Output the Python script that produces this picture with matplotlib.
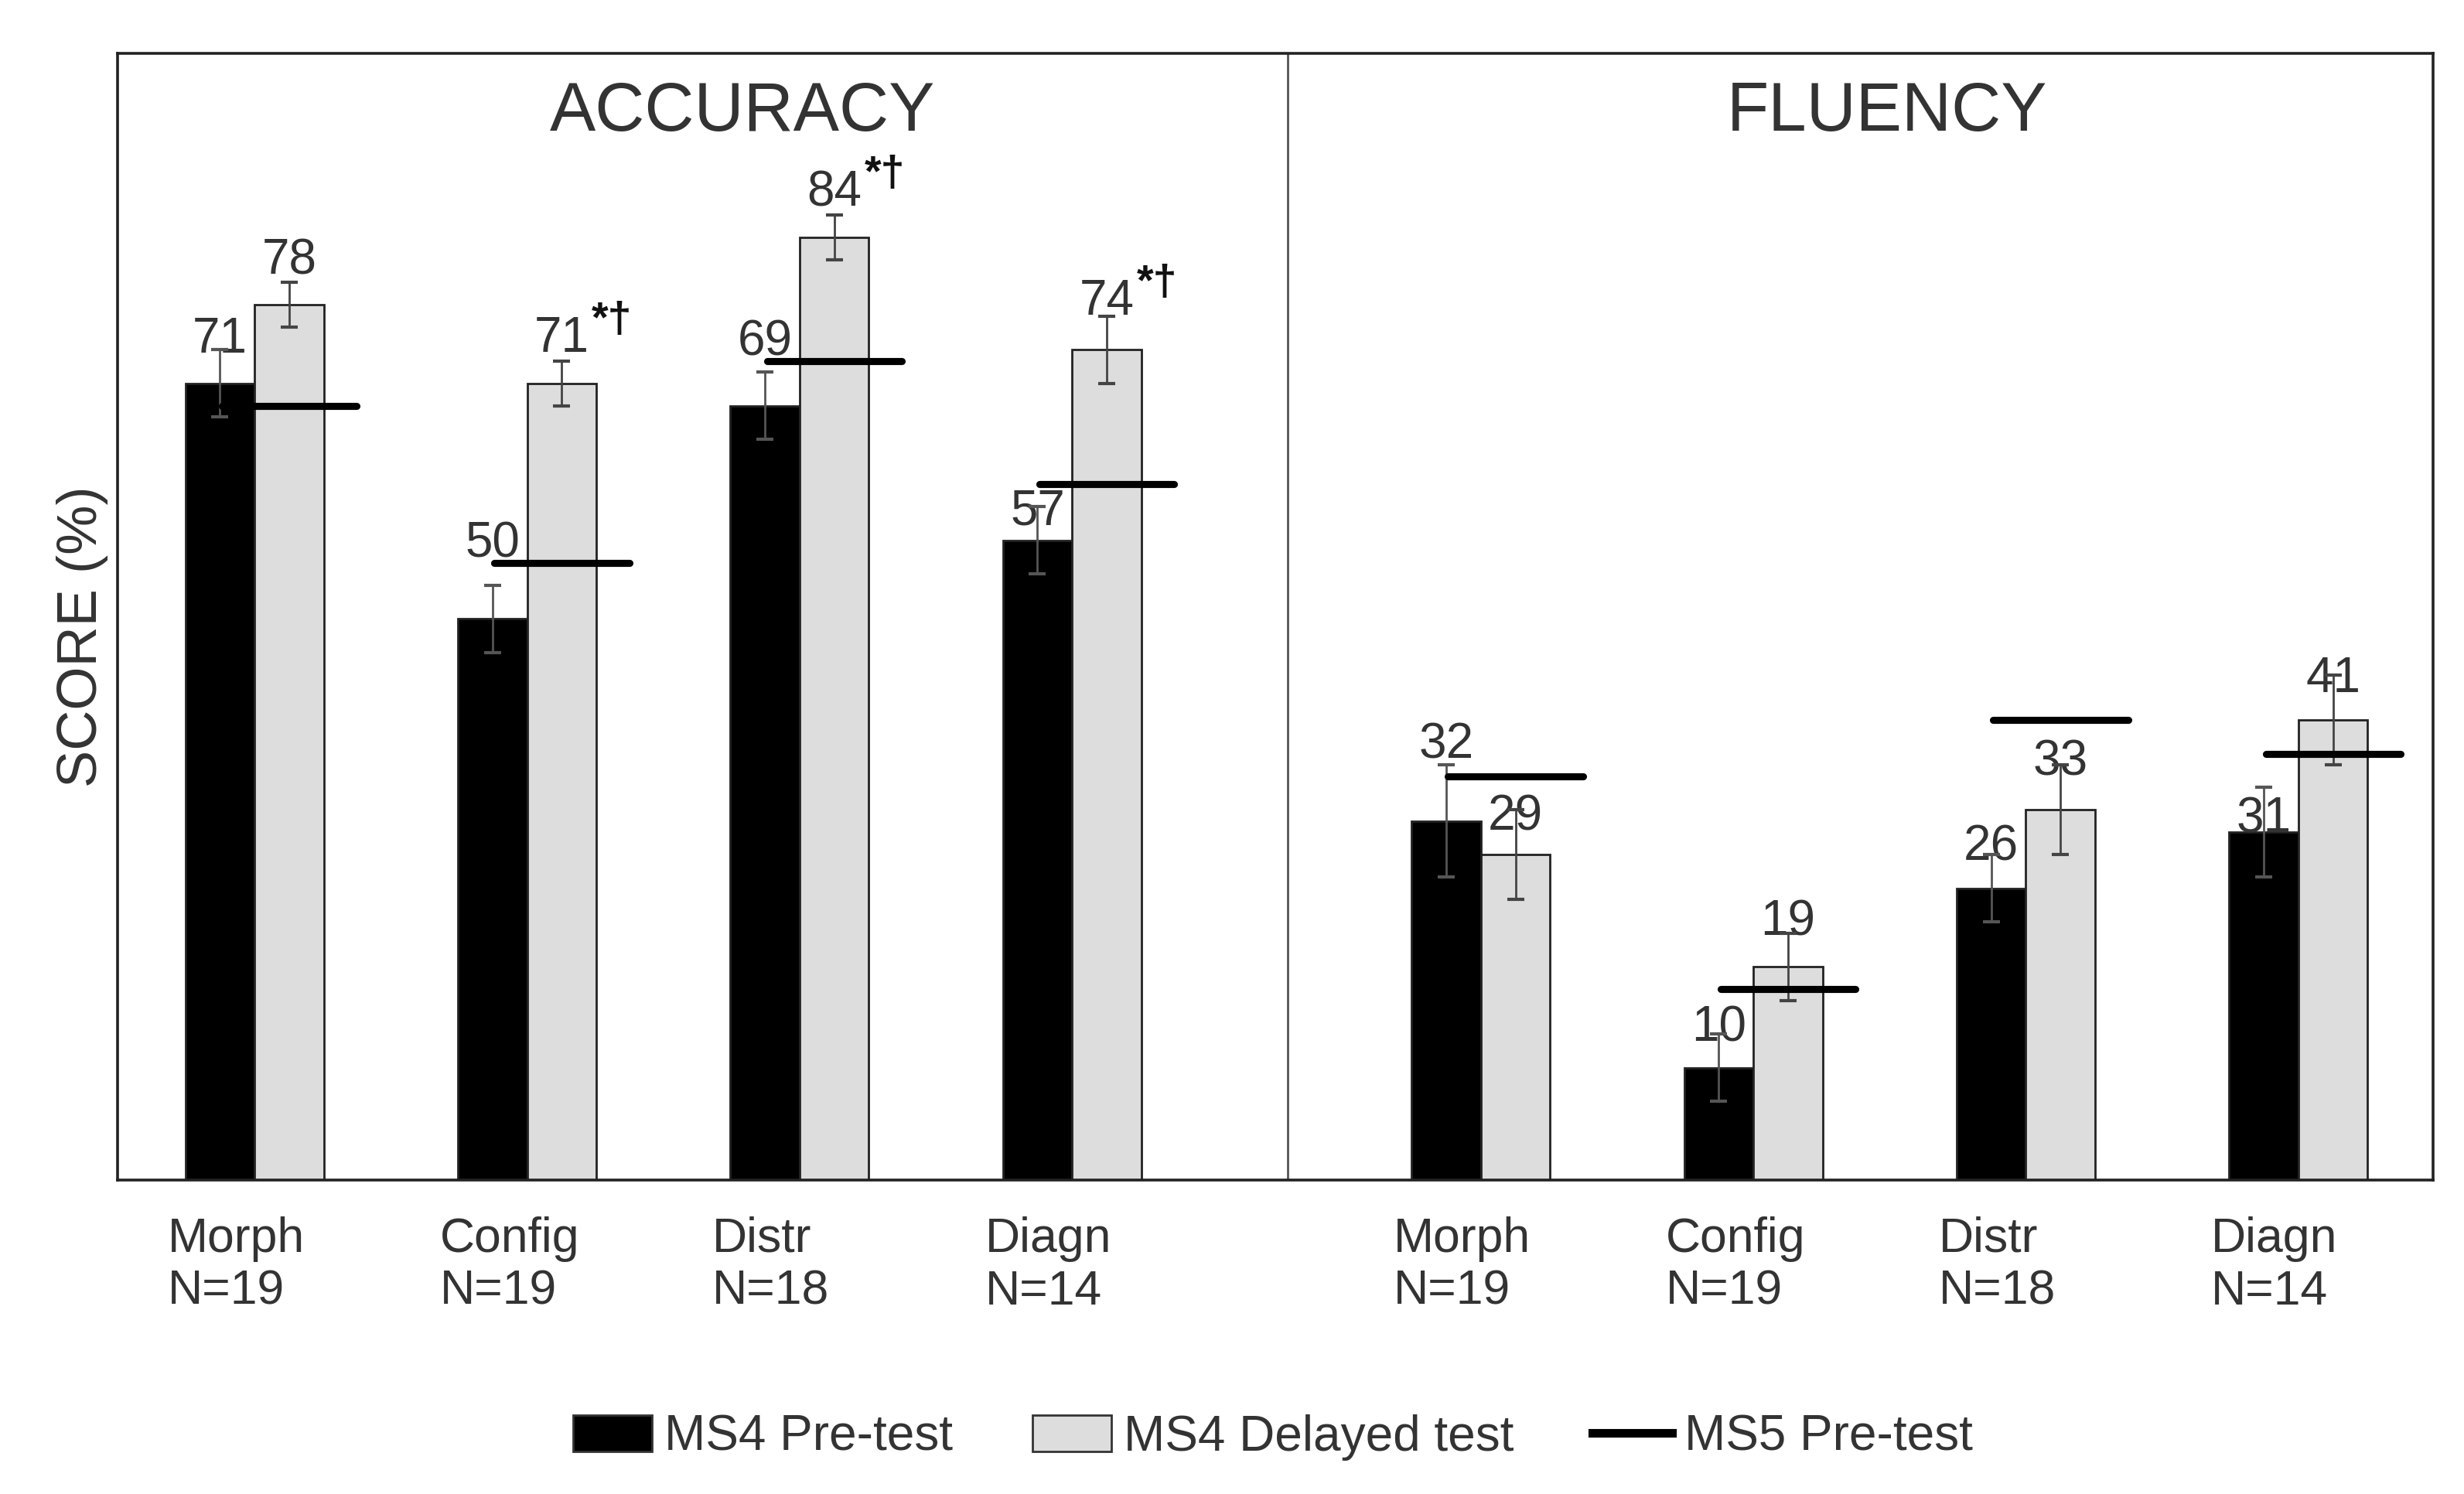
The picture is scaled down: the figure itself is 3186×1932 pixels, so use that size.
import numpy as np
import matplotlib.pyplot as plt
from matplotlib.patches import Patch
from matplotlib.lines import Line2D

plt.rcParams['font.family'] = ['Liberation Sans', 'DejaVu Sans']

# data
categories = ['Morph', 'Config', 'Distr', 'Diagn']
n_labels = ['N=19', 'N=19', 'N=18', 'N=14']
panels = ['ACCURACY', 'FLUENCY']

acc_pre = [71, 50, 69, 57]
acc_pre_err = [3, 3, 3, 3]
acc_delayed = [78, 71, 84, 74]
acc_delayed_err = [2, 2, 2, 3]
acc_ms5 = [69, 55, 73, 62]
acc_sig = ['', '*†', '*†', '*†']

flu_pre = [32, 10, 26, 31]
flu_pre_err = [5, 3, 3, 4]
flu_delayed = [29, 19, 33, 41]
flu_delayed_err = [4, 3, 4, 4]
flu_ms5 = [36, 17, 41, 38]
flu_sig = ['', '', '', '']

# layout: value labels sit a bit above the bar, some were moved by hand in the original
acc_pre_nudge = [0, 2.8, 1.8, -1.3]
acc_del_nudge = [0, 0.1, 0.1, 0.4]
flu_pre_nudge = [2.9, -0.3, -0.2, -2.7]
flu_del_nudge = [-0.5, 0.1, 0.4, -0.2]

w = 0.254
txt = '#333333'
gray = '#dddddd'

fig = plt.figure(figsize=(15.93, 9.66), dpi=200)
ax = fig.add_axes([0.0477, 0.2101, 0.9397, 0.7542])


def draw_panel(x0, pre, pre_err, dl, dl_err, ms5, sig, pre_nudge, dl_nudge):
    x = np.arange(len(pre)) + x0
    ax.bar(x - w / 2, pre, w, color='black', edgecolor='#222222', lw=1.0, zorder=2)
    ax.bar(x + w / 2, dl, w, color=gray, edgecolor='#222222', lw=1.0, zorder=2)
    ax.errorbar(x - w / 2, pre, yerr=pre_err, fmt='none', ecolor='#555555',
                elinewidth=1.0, capsize=4, capthick=1.5, zorder=4)
    ax.errorbar(x + w / 2, dl, yerr=dl_err, fmt='none', ecolor='#444444',
                elinewidth=1.0, capsize=4, capthick=1.5, zorder=4)
    for i in range(len(pre)):
        ax.plot([x[i] - 0.12, x[i] + 0.375], [ms5[i], ms5[i]], color='black',
                lw=3.3, solid_capstyle='round', zorder=5)
        ax.text(x[i] - w / 2, pre[i] + 2.7 + pre_nudge[i], str(pre[i]), ha='center',
                va='baseline', fontsize=23, color=txt, zorder=3)
        yd = dl[i] + 2.7 + dl_nudge[i]
        ax.text(x[i] + w / 2, yd, str(dl[i]), ha='center',
                va='baseline', fontsize=23, color=txt, zorder=3)
        if sig[i]:
            ax.text(x[i] + w / 2 + 0.11, yd + 1.8, sig[i], ha='left',
                    va='baseline', fontsize=20, fontweight='bold', color='#111111', zorder=3)
        ax.text(x[i] - 0.32, -0.032, categories[i] + '\n' + n_labels[i],
                transform=ax.get_xaxis_transform(), ha='left', va='top',
                fontsize=22.5, color=txt, linespacing=1.2)


draw_panel(0, acc_pre, acc_pre_err, acc_delayed, acc_delayed_err, acc_ms5, acc_sig,
           acc_pre_nudge, acc_del_nudge)
draw_panel(4.5, flu_pre, flu_pre_err, flu_delayed, flu_delayed_err, flu_ms5, flu_sig,
           flu_pre_nudge, flu_del_nudge)

ax.text(1.79, 93.5, panels[0], ha='center', va='baseline', fontsize=32, color=txt)
ax.text(5.99, 93.5, panels[1], ha='center', va='baseline', fontsize=32, color=txt)

ax.axvline(3.79, color='#555555', lw=1.0, zorder=1)
ax.set_xlim(-0.503, 7.994)
ax.set_ylim(0, 100.4)
ax.set_xticks([])
ax.set_yticks([])
for s in ax.spines.values():
    s.set_linewidth(1.3)
    s.set_color('#222222')

fig.text(0.0333, 0.574, 'SCORE (%)', rotation=90, ha='center', va='center',
         fontsize=26, color=txt)

handles = [Patch(facecolor='black', edgecolor='#333333', lw=1.0),
           Patch(facecolor=gray, edgecolor='#333333', lw=1.0),
           Line2D([], [], color='black', lw=4)]
fig.legend(handles, ['MS4 Pre-test', 'MS4 Delayed test', 'MS5 Pre-test'],
           loc='center', bbox_to_anchor=(0.5166, 0.0378), ncol=3, frameon=False,
           fontsize=23, handlelength=1.6, handleheight=0.75, handletextpad=0.25,
           columnspacing=1.6, labelcolor=txt)

fig.savefig('out.png', dpi=200)
